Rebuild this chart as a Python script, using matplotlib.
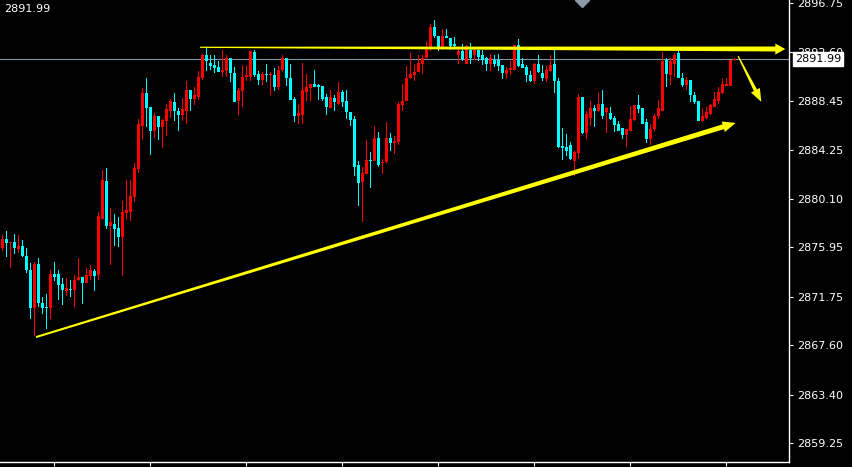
import numpy as np
import matplotlib
matplotlib.use('Agg')
import matplotlib.pyplot as plt
import matplotlib.transforms as mtransforms
from matplotlib.patches import Polygon

# candle data (one bar every 4 px)
opens = [2875.9, 2876.7, 2876.3, 2876.4, 2875.8, 2876.1, 2875.2, 2874.0, 2870.8, 2874.5,
         2871.2, 2870.9, 2870.8, 2873.7, 2873.7, 2872.8, 2872.2, 2872.4, 2872.3, 2873.2,
         2873.4, 2872.9, 2873.5, 2873.9, 2873.6, 2878.4, 2881.6, 2877.8, 2877.9, 2877.6,
         2876.8, 2878.9, 2879.0, 2880.2, 2882.6, 2886.3, 2889.1, 2887.9, 2885.9, 2887.1,
         2886.2, 2886.7, 2887.6, 2888.3, 2887.6, 2887.2, 2887.6, 2889.4, 2888.6, 2888.8,
         2890.4, 2892.3, 2891.7, 2891.5, 2891.3, 2890.9, 2891.0, 2892.1, 2890.8, 2888.4,
         2889.3, 2890.5, 2890.5, 2892.6, 2890.7, 2890.2, 2890.7, 2890.6, 2890.6, 2889.6,
         2891.1, 2892.1, 2890.4, 2888.6, 2887.1, 2887.2, 2889.2, 2889.5, 2889.9, 2889.8,
         2889.7, 2888.8, 2887.8, 2888.7, 2888.2, 2889.2, 2888.4, 2887.5, 2886.9, 2883.0,
         2881.5, 2882.2, 2883.4, 2883.3, 2885.3, 2883.1, 2883.2, 2885.3, 2884.8, 2884.9,
         2888.1, 2888.4, 2890.4, 2890.6, 2890.9, 2891.6, 2892.1, 2892.9, 2894.7, 2894.0,
         2893.0, 2894.0, 2893.8, 2893.3, 2892.3, 2892.7, 2891.6, 2892.8, 2892.3, 2892.8,
         2892.3, 2892.1, 2891.6, 2891.9, 2891.9, 2891.5, 2890.7, 2891.1, 2891.1, 2893.2,
         2891.6, 2891.3, 2890.6, 2890.1, 2891.6, 2890.8, 2890.3, 2891.0, 2891.6, 2890.1,
         2884.6, 2884.5, 2884.7, 2883.3, 2884.0, 2888.8, 2885.7, 2887.0, 2887.8, 2887.6,
         2888.2, 2887.5, 2887.4, 2887.0, 2886.5, 2886.1, 2885.5, 2885.9, 2886.8, 2888.1,
         2887.8, 2886.6, 2885.2, 2886.0, 2887.1, 2887.6, 2891.9, 2890.6, 2891.6, 2892.5,
         2890.4, 2889.8, 2890.2, 2888.9, 2888.4, 2886.7, 2887.0, 2887.3, 2887.9, 2888.4,
         2889.1, 2889.7, 2889.7, 2891.9]
highs = [2877.0, 2877.3, 2876.4, 2877.1, 2877.0, 2876.6, 2875.9, 2874.6, 2874.7, 2875.0,
         2871.7, 2872.0, 2874.0, 2874.7, 2874.0, 2873.3, 2873.3, 2873.2, 2873.6, 2875.0,
         2873.4, 2874.2, 2874.4, 2874.1, 2879.0, 2882.5, 2882.7, 2879.3, 2878.8, 2878.5,
         2879.9, 2881.7, 2881.7, 2883.1, 2886.9, 2889.5, 2890.4, 2887.9, 2887.4, 2887.1,
         2886.9, 2888.2, 2888.6, 2889.1, 2887.8, 2888.7, 2890.1, 2889.4, 2889.6, 2891.0,
         2892.4, 2893.0, 2892.3, 2892.3, 2891.8, 2892.8, 2892.3, 2892.1, 2891.3, 2889.5,
         2891.5, 2891.4, 2892.7, 2892.8, 2891.0, 2890.9, 2891.6, 2890.9, 2891.2, 2891.4,
         2892.3, 2892.1, 2891.6, 2888.8, 2888.1, 2891.7, 2890.7, 2889.9, 2891.1, 2889.9,
         2889.7, 2889.0, 2889.4, 2888.9, 2890.0, 2889.4, 2889.4, 2887.5, 2887.1, 2883.3,
         2882.8, 2885.1, 2884.1, 2886.3, 2885.8, 2883.5, 2886.6, 2885.7, 2885.4, 2888.3,
         2889.9, 2891.4, 2892.5, 2891.5, 2892.3, 2892.3, 2893.5, 2895.0, 2895.3, 2894.0,
         2894.6, 2894.6, 2893.8, 2893.9, 2892.9, 2893.3, 2893.2, 2893.4, 2892.9, 2892.8,
         2892.8, 2892.2, 2892.4, 2892.3, 2892.4, 2891.5, 2891.3, 2891.8, 2893.2, 2893.7,
         2892.1, 2891.5, 2891.0, 2891.7, 2892.3, 2891.5, 2891.4, 2892.3, 2892.8, 2890.4,
         2886.1, 2885.6, 2884.9, 2884.2, 2889.0, 2888.8, 2887.6, 2888.4, 2888.1, 2889.1,
         2889.4, 2887.9, 2887.9, 2887.1, 2886.7, 2886.1, 2886.0, 2888.0, 2888.1, 2888.9,
         2887.8, 2886.9, 2886.5, 2887.3, 2888.5, 2892.6, 2892.1, 2892.1, 2892.5, 2892.7,
         2890.8, 2890.5, 2890.2, 2889.2, 2888.4, 2887.8, 2887.9, 2888.2, 2889.2, 2889.6,
         2890.3, 2890.4, 2891.9, 2892.1]
lows = [2875.6, 2875.1, 2874.2, 2875.4, 2875.5, 2875.1, 2873.8, 2869.8, 2868.4, 2870.9,
        2870.3, 2869.0, 2869.8, 2873.1, 2871.5, 2871.0, 2871.8, 2871.7, 2870.9, 2873.1,
        2871.1, 2872.9, 2873.2, 2872.2, 2873.2, 2878.4, 2877.5, 2874.4, 2876.1, 2876.0,
        2873.5, 2878.4, 2878.2, 2879.8, 2882.3, 2885.1, 2886.2, 2883.8, 2885.3, 2885.1,
        2884.4, 2885.4, 2887.0, 2886.7, 2885.9, 2886.7, 2886.5, 2887.6, 2888.1, 2888.5,
        2890.2, 2891.0, 2891.1, 2890.8, 2890.9, 2890.5, 2890.5, 2890.0, 2888.3, 2887.2,
        2887.9, 2890.1, 2890.1, 2890.5, 2889.8, 2889.8, 2890.0, 2888.9, 2889.3, 2889.4,
        2890.9, 2889.7, 2888.5, 2886.6, 2886.5, 2886.5, 2888.4, 2888.4, 2889.6, 2888.5,
        2888.4, 2887.2, 2887.8, 2887.6, 2888.1, 2887.9, 2886.9, 2886.3, 2882.0, 2879.5,
        2878.1, 2882.2, 2881.0, 2883.3, 2882.8, 2882.2, 2883.1, 2884.2, 2883.9, 2884.7,
        2887.6, 2888.4, 2890.3, 2890.1, 2890.9, 2890.7, 2892.1, 2892.7, 2893.8, 2892.7,
        2892.8, 2893.8, 2892.8, 2892.9, 2891.6, 2891.8, 2891.6, 2891.6, 2891.9, 2891.8,
        2891.5, 2891.0, 2891.0, 2891.3, 2891.0, 2890.3, 2890.3, 2890.6, 2891.1, 2891.3,
        2891.2, 2890.0, 2890.0, 2889.9, 2890.8, 2890.1, 2890.0, 2890.9, 2889.1, 2884.4,
        2883.4, 2883.7, 2883.4, 2882.0, 2883.5, 2885.6, 2885.2, 2886.3, 2886.2, 2887.5,
        2886.9, 2885.7, 2886.8, 2885.8, 2885.9, 2885.2, 2884.5, 2885.9, 2886.7, 2887.4,
        2886.5, 2884.8, 2884.7, 2885.9, 2886.9, 2887.6, 2889.6, 2889.8, 2890.5, 2890.4,
        2889.6, 2889.4, 2888.3, 2888.2, 2886.7, 2886.6, 2886.9, 2887.2, 2887.9, 2888.2,
        2889.0, 2889.7, 2889.7, 2891.85]
closes = [2876.7, 2876.3, 2876.4, 2875.9, 2876.1, 2875.2, 2874.0, 2870.8, 2874.5, 2871.2,
          2870.8, 2870.8, 2873.7, 2873.4, 2872.7, 2872.3, 2872.5, 2872.3, 2873.2, 2873.4,
          2872.9, 2873.6, 2874.0, 2873.5, 2878.6, 2881.7, 2877.8, 2878.1, 2877.5, 2876.8,
          2879.0, 2879.1, 2880.3, 2882.7, 2886.5, 2889.1, 2887.8, 2885.9, 2887.1, 2886.2,
          2886.8, 2887.7, 2888.4, 2887.6, 2887.2, 2887.7, 2889.4, 2888.6, 2888.9, 2890.5,
          2892.3, 2891.8, 2891.4, 2891.2, 2890.9, 2891.1, 2892.1, 2890.8, 2888.3, 2889.4,
          2890.5, 2890.6, 2892.7, 2890.6, 2890.2, 2890.7, 2890.6, 2890.7, 2889.6, 2891.1,
          2892.1, 2890.4, 2888.5, 2887.1, 2887.4, 2889.4, 2889.6, 2889.9, 2889.6, 2889.6,
          2888.6, 2887.9, 2888.8, 2888.3, 2889.2, 2888.3, 2887.5, 2886.8, 2882.8, 2881.4,
          2882.3, 2883.4, 2883.3, 2885.3, 2883.0, 2883.2, 2885.3, 2884.8, 2885.0, 2888.2,
          2888.4, 2890.4, 2890.7, 2890.9, 2891.7, 2892.1, 2892.9, 2894.7, 2894.0, 2893.0,
          2894.0, 2893.8, 2893.1, 2893.1, 2892.7, 2892.0, 2893.1, 2892.1, 2892.8, 2892.2,
          2891.9, 2891.6, 2892.1, 2891.6, 2891.4, 2890.8, 2891.1, 2891.2, 2893.2, 2891.4,
          2891.2, 2890.6, 2890.1, 2891.6, 2890.9, 2890.4, 2891.1, 2891.5, 2890.1, 2884.5,
          2884.4, 2884.2, 2883.5, 2884.1, 2888.8, 2885.7, 2887.3, 2887.8, 2887.6, 2888.2,
          2887.1, 2887.8, 2886.9, 2886.4, 2885.9, 2885.5, 2886.0, 2886.9, 2888.1, 2887.7,
          2886.5, 2885.2, 2886.0, 2887.1, 2887.8, 2891.8, 2890.7, 2891.8, 2892.3, 2890.4,
          2889.8, 2890.2, 2888.9, 2888.3, 2886.7, 2887.1, 2887.5, 2888.1, 2888.6, 2889.2,
          2889.9, 2889.9, 2891.9, 2891.99]

last_price = 2891.99
price_ticks = [2896.75, 2892.60, 2888.45, 2884.25, 2880.10,
               2875.95, 2871.75, 2867.60, 2863.40, 2859.25]
time_ticks = [13, 37, 61, 85, 109, 133, 157, 181]

# hand drawn arrows: (bar index, price) for start and tip
resist_start, resist_end = (49.4, 2893.0), (195.7, 2892.85)
support_start, support_end = (8.4, 2868.3), (183.3, 2886.55)
drop_start, drop_end = (183.9, 2892.25), (189.7, 2888.35)
marker_pos = (144.9, 2897.03)

UP_COLOR = '#ff0000'
DOWN_COLOR = '#00ffff'
ARROW_COLOR = '#ffff00'


def taper_arrow(ax, start, end, w0, w1, head_w, head_len):
    # polygon in pixel space so that widths are in pixels
    p0 = ax.transData.transform(start)
    p1 = ax.transData.transform(end)
    d = p1 - p0
    u = d / np.hypot(*d)
    n = np.array([-u[1], u[0]])
    base = p1 - u * head_len
    pts = [p0 + n * w0 / 2, base + n * w1 / 2, base + n * head_w / 2, p1,
           base - n * head_w / 2, base - n * w1 / 2, p0 - n * w0 / 2]
    ax.add_patch(Polygon(pts, closed=True, transform=mtransforms.IdentityTransform(),
                         facecolor=ARROW_COLOR, edgecolor='none', zorder=4))


fig = plt.figure(figsize=(8.52, 4.67), dpi=100, facecolor='black')
ax = fig.add_axes([0, 5 / 467, 789 / 852, 462 / 467])
ax.set_facecolor('black')
# 4 px per bar
ax.set_xlim(-0.625, 196.625)
ax.set_ylim(2857.65, 2897.03)

o = np.array(opens)
h = np.array(highs)
l = np.array(lows)
c = np.array(closes)
idx = np.arange(len(o))
colors = np.where(c >= o, UP_COLOR, DOWN_COLOR)

# wicks and bodies both as bars so they share the same pixel snapping
ax.bar(idx, h - l, bottom=l, width=0.25, color=colors, linewidth=0, zorder=2)
ax.bar(idx, np.maximum(np.abs(c - o), 0.06), bottom=np.minimum(o, c),
       width=0.75, color=colors, linewidth=0, zorder=3)

ax.axhline(last_price, color='#8493a8', linewidth=0.8, zorder=1)
ax.plot(*marker_pos, marker='D', color='#8c9aa8', markersize=7, zorder=5)

# spines / ticks
for side in ['top', 'left']:
    ax.spines[side].set_visible(False)
for side in ['right', 'bottom']:
    ax.spines[side].set_color('white')
    ax.spines[side].set_linewidth(1)
ax.yaxis.tick_right()
ax.set_yticks(price_ticks)
ax.set_yticklabels([f'{v:.2f}' for v in price_ticks])
ax.tick_params(axis='y', colors='white', labelsize=8, length=3, width=0.8, pad=3)
ax.set_xticks(time_ticks)
ax.set_xticklabels([])
ax.tick_params(axis='x', colors='white', length=3, width=0.8)

# arrows
taper_arrow(ax, resist_start, resist_end, 1.2, 5, 11, 10)
taper_arrow(ax, support_start, support_end, 2, 5, 11, 13)
taper_arrow(ax, drop_start, drop_end, 1.2, 3.5, 10, 13)

# price labels
trans = mtransforms.blended_transform_factory(ax.transAxes, ax.transData)
ax.text(795 / 789, last_price, f'{last_price:.2f}', transform=trans, ha='left', va='center',
        fontsize=8, color='black', clip_on=False, zorder=6,
        bbox=dict(facecolor='white', edgecolor='white', pad=1.5))
fig.text(4 / 852, 1 - 9 / 467, f'{last_price:.2f}', color='white', fontsize=8, va='center')

fig.savefig('out.png', dpi=100, facecolor='black')
